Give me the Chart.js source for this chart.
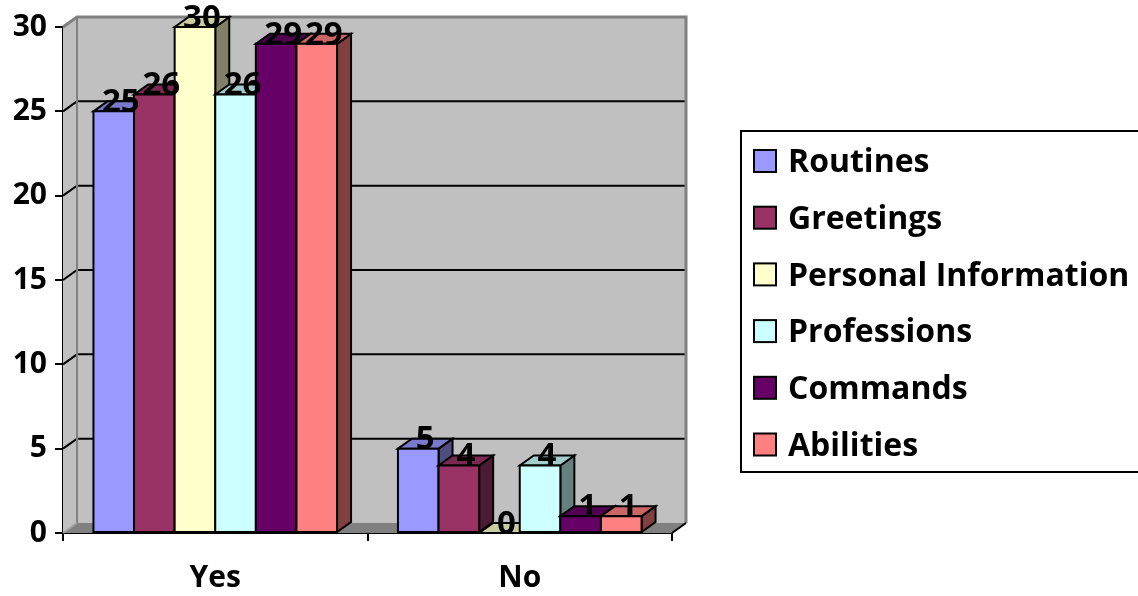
<!DOCTYPE html>
<html>
<head>
<meta charset="utf-8">
<script src="https://cdn.jsdelivr.net/npm/chart.js@4.4.1/dist/chart.umd.min.js"></script>
<style>
  html, body { margin: 0; padding: 0; background: #ffffff; }
  #wrap { width: 1138px; height: 596px; position: relative; }
</style>
</head>
<body>
<div id="wrap"><canvas id="chart" width="1138" height="596"></canvas></div>
<script>
// ---- data ----
const categories = ['Yes', 'No'];
const seriesNames = ['Routines', 'Greetings', 'Personal Information', 'Professions', 'Commands', 'Abilities'];
const routines = [25, 5];
const greetings = [26, 4];
const personalInformation = [30, 0];
const professions = [26, 4];
const commands = [29, 1];
const abilities = [29, 1];
const yTickValues = [0, 5, 10, 15, 20, 25, 30];

// ---- styles ----
const seriesColors = ['#9999FF', '#993366', '#FFFFCC', '#CCFFFF', '#660066', '#FF8080'];
const FONT = '"Open Sans", Lato, "DejaVu Sans", sans-serif';
const DEPTH_X = 14;   // 3D depth offset, horizontal
const DEPTH_Y = 10;   // 3D depth offset, vertical
const WALL = '#C0C0C0';
const WALL_EDGE = '#808080';
const FLOOR = '#808080';

function shade(hex, f) {
  const n = parseInt(hex.slice(1), 16);
  const r = Math.round(((n >> 16) & 255) * f);
  const g = Math.round(((n >> 8) & 255) * f);
  const b = Math.round((n & 255) * f);
  return 'rgb(' + r + ',' + g + ',' + b + ')';
}

function poly(ctx, pts, fill, stroke, lw) {
  ctx.beginPath();
  ctx.moveTo(pts[0][0], pts[0][1]);
  for (let i = 1; i < pts.length; i++) ctx.lineTo(pts[i][0], pts[i][1]);
  ctx.closePath();
  if (fill) { ctx.fillStyle = fill; ctx.fill(); }
  if (stroke) { ctx.strokeStyle = stroke; ctx.lineWidth = lw; ctx.stroke(); }
}

// Walls, floor and 3D prisms, drawn in place of the flat bars.
const prismPlugin = {
  id: 'prism3d',
  beforeDatasetsDraw(chart) {
    const ctx = chart.ctx;
    const ys = chart.scales.y;
    const area = chart.chartArea;
    const L = area.left, R = area.right;
    const B = ys.getPixelForValue(yTickValues[0]);
    const T = ys.getPixelForValue(yTickValues[yTickValues.length - 1]);
    const dx = DEPTH_X, dy = DEPTH_Y;

    ctx.save();
    ctx.lineJoin = 'miter';

    // back wall
    poly(ctx, [[L + dx, T - dy], [R + dx, T - dy], [R + dx, B - dy], [L + dx, B - dy]], WALL, null, 0);
    // left side wall
    poly(ctx, [[L, T], [L + dx, T - dy], [L + dx, B - dy], [L, B]], WALL, null, 0);
    // floor
    poly(ctx, [[L, B], [L + dx, B - dy], [R + dx, B - dy], [R, B]], FLOOR, null, 0);

    // gridlines on back wall + side wall
    ctx.lineWidth = 2;
    ctx.strokeStyle = '#000000';
    yTickValues.forEach(v => {
      if (v === yTickValues[0] || v === yTickValues[yTickValues.length - 1]) return;
      const py = ys.getPixelForValue(v);
      ctx.beginPath();
      ctx.moveTo(L, py);
      ctx.lineTo(L + dx, py - dy);
      ctx.lineTo(R + dx, py - dy);
      ctx.stroke();
    });

    // wall edges
    ctx.strokeStyle = WALL_EDGE;
    ctx.lineWidth = 3;
    ctx.beginPath();
    ctx.moveTo(L, T);
    ctx.lineTo(L + dx, T - dy);
    ctx.lineTo(R + dx, T - dy);
    ctx.lineTo(R + dx, B - dy);
    ctx.stroke();
    ctx.lineWidth = 2;
    ctx.beginPath();
    ctx.moveTo(L + dx, T - dy);
    ctx.lineTo(L + dx, B - dy);
    ctx.stroke();
    ctx.strokeStyle = '#A0A0A0';
    ctx.beginPath();
    ctx.moveTo(L, B);
    ctx.lineTo(L + dx, B - dy);
    ctx.stroke();
    // right floor edge
    ctx.strokeStyle = '#000000';
    ctx.beginPath();
    ctx.moveTo(R, B);
    ctx.lineTo(R + dx, B - dy);
    ctx.stroke();

    // prisms, front-left to right
    const labels = [];
    const nCat = chart.data.labels.length;
    const nSet = chart.data.datasets.length;
    for (let i = 0; i < nCat; i++) {
      for (let d = 0; d < nSet; d++) {
        const meta = chart.getDatasetMeta(d);
        const el = meta.data[i];
        const p = el.getProps(['x', 'y', 'base', 'width'], true);
        const x0 = p.x - p.width / 2, x1 = p.x + p.width / 2;
        const top = p.y, base = p.base;
        const col = chart.data.datasets[d].backgroundColor;
        // side face
        if (base - top > 0.5) {
          poly(ctx, [[x1, top], [x1 + dx, top - dy], [x1 + dx, base - dy], [x1, base]], shade(col, 0.5), '#000', 2);
        }
        // top face
        poly(ctx, [[x0, top], [x0 + dx, top - dy], [x1 + dx, top - dy], [x1, top]], shade(col, 0.8), '#000', 2);
        // front face
        if (base - top > 0.5) {
          poly(ctx, [[x0, top], [x1, top], [x1, base], [x0, base]], col, '#000', 2);
        }
        labels.push({ x: p.x + dx / 2, y: top - 11, text: String(chart.data.datasets[d].data[i]) });
      }
    }

    // value labels
    ctx.fillStyle = '#000000';
    ctx.font = 'bold 33px ' + FONT;
    ctx.textAlign = 'center';
    ctx.textBaseline = 'alphabetic';
    labels.forEach(l => ctx.fillText(l.text, l.x, l.y + 11.8));

    ctx.restore();
    return false;
  },
  afterDraw(chart) {
    // legend box
    const ctx = chart.ctx;
    ctx.save();
    ctx.strokeStyle = '#000000';
    ctx.lineWidth = 2;
    ctx.strokeRect(741, 131, 420, 341);
    const rowTop = 161, rowGap = 56.7;
    ctx.font = 'bold 32px ' + FONT;
    ctx.textAlign = 'left';
    ctx.textBaseline = 'alphabetic';
    chart.data.datasets.forEach((ds, k) => {
      const cy = rowTop + k * rowGap;
      ctx.fillStyle = ds.backgroundColor;
      ctx.fillRect(754, cy - 11, 22, 22);
      ctx.strokeStyle = '#000000';
      ctx.lineWidth = 2;
      ctx.strokeRect(754, cy - 11, 22, 22);
      ctx.fillStyle = '#000000';
      ctx.fillText(ds.label, 788, cy + 11.3);
    });
    ctx.restore();
  }
};

const seriesValues = [routines, greetings, personalInformation, professions, commands, abilities];

new Chart(document.getElementById('chart'), {
  type: 'bar',
  data: {
    labels: categories,
    datasets: seriesNames.map((name, k) => ({
      label: name,
      data: seriesValues[k],
      backgroundColor: seriesColors[k],
      borderColor: '#000000',
      borderWidth: 2,
      categoryPercentage: 0.8,
      barPercentage: 1.0
    }))
  },
  options: {
    responsive: false,
    animation: false,
    layout: { padding: { top: 27, right: 466, left: 0, bottom: 0 } },
    plugins: {
      legend: { display: false },
      tooltip: { enabled: false }
    },
    scales: {
      x: {
        offset: true,
        grid: { display: true, drawOnChartArea: false, drawTicks: true, tickLength: 8, color: '#000000', lineWidth: 2, offset: true },
        border: { display: true, color: '#000000', width: 2 },
        ticks: { color: '#000000', font: { family: FONT, size: 30, weight: 'bold' }, padding: 19 },
        afterFit(scale) { scale.height = 63; }
      },
      y: {
        min: 0,
        max: 30,
        afterBuildTicks(scale) { scale.ticks = yTickValues.map(v => ({ value: v })); },
        grid: { display: true, drawOnChartArea: false, drawTicks: true, tickLength: 8, color: '#000000', lineWidth: 2 },
        border: { display: true, color: '#000000', width: 2 },
        ticks: { color: '#000000', font: { family: FONT, size: 30, weight: 'bold' }, padding: 8 },
        afterFit(scale) { scale.width = 63; }
      }
    }
  },
  plugins: [prismPlugin]
});
</script>
</body>
</html>
